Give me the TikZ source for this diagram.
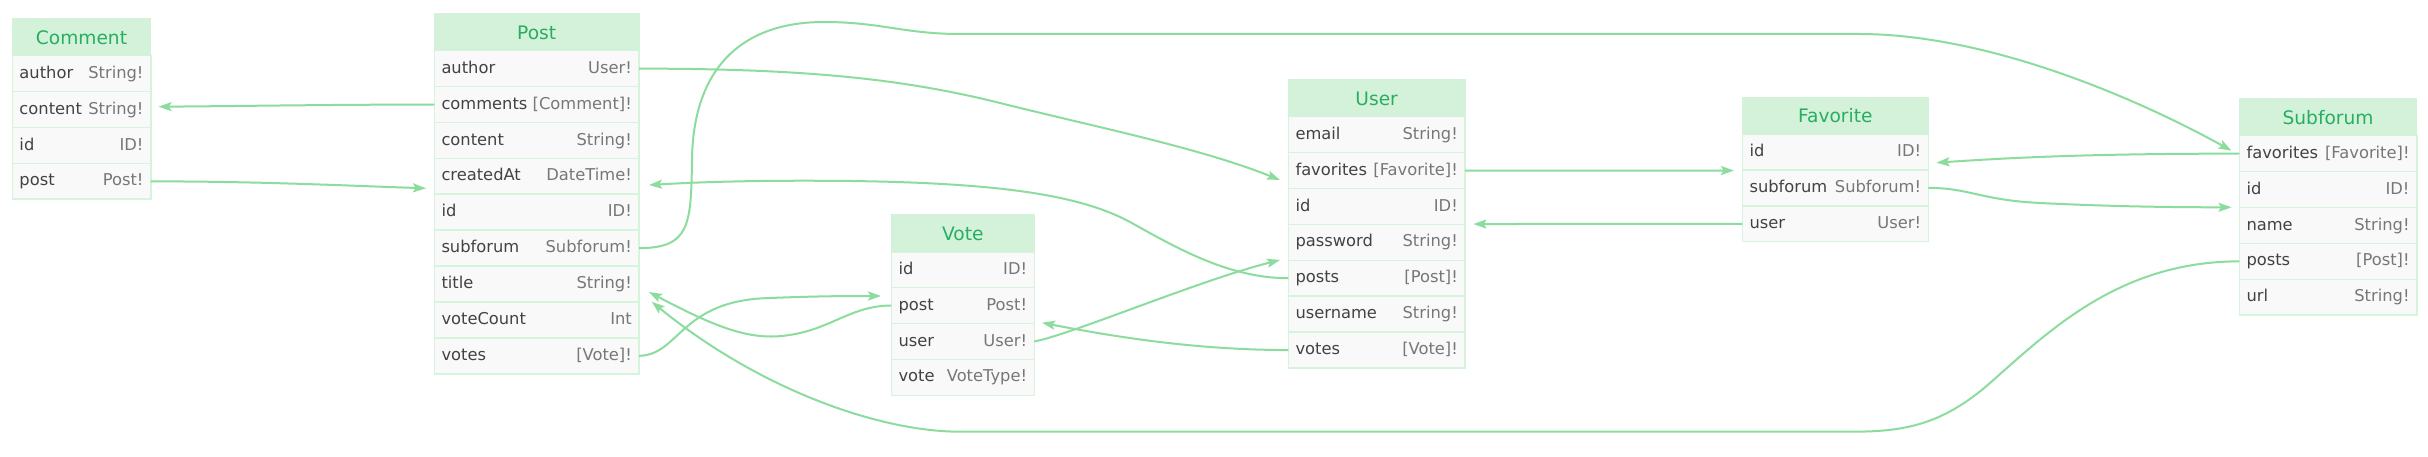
\documentclass[tikz,border=0pt]{standalone}
\usepackage{fontspec}
\setmainfont{DejaVu Sans}
\usetikzlibrary{arrows.meta,calc}
\definecolor{edgecol}{RGB}{140,220,158}
\definecolor{hdrfill}{RGB}{212,242,218}
\definecolor{hdrtext}{RGB}{39,174,96}
\definecolor{rowfill}{RGB}{249,249,249}
\definecolor{bordercol}{RGB}{214,243,220}
\definecolor{namecol}{RGB}{66,66,66}
\definecolor{typecol}{RGB}{119,119,119}
\tikzset{
  rowbox/.style={draw=bordercol, fill=rowfill, line width=1.6pt, inner sep=0pt, outer sep=0pt, minimum height=35.9pt},
  hdrbox/.style={draw=hdrfill, fill=hdrfill, line width=1.2pt, inner sep=0pt, outer sep=0pt, minimum height=36.7pt},
  htext/.style={inner sep=0pt, text=hdrtext, font=\fontsize{18.6pt}{22pt}\selectfont},
  fname/.style={inner sep=0pt, text=namecol, font=\fontsize{16.3pt}{19pt}\selectfont},
  ftype/.style={inner sep=0pt, text=typecol, font=\fontsize{16.3pt}{19pt}\selectfont},
  conn/.style={draw=edgecol, line width=2pt, -{Stealth[length=13pt,width=9pt,inset=2.5pt]}},
}
% #1 name, #2 left, #3 top, #4 width, #5 title, #6 rows
\newcommand{\gqltype}[6]{%
  \foreach \f/\t [count=\i] in {#6}{%
    \node[rowbox, minimum width=#4pt, anchor=north west] (#1-\f) at (#2, {#3+36.7+(\i-1)*35.9}) {};
    \node[fname, anchor=base west] (#1-\f-n) at ($(#1-\f.west)+(7,4.6)$) {\f};
    \node[ftype, anchor=base east] (#1-\f-t) at ($(#1-\f.east)+(-7,4.6)$) {\t};
  }
  \node[hdrbox, minimum width=#4pt, anchor=north west] (#1) at (#2,#3) {};
  \node[htext, anchor=base] (#1-title) at ($(#1.north)+(0,25.2)$) {#5};
}
\begin{document}
\begin{tikzpicture}[x=1pt,y=-1pt]
\fill[white] (0,0) rectangle (2428,457);
\useasboundingbox (0,0) rectangle (2428,457);

\gqltype{Comment}{12.3}{19}{138.4}{Comment}{author/String!, content/String!, id/ID!, post/Post!}
\gqltype{Post}{434.3}{14}{204.7}{Post}{author/User!, comments/{[Comment]!}, content/String!, createdAt/DateTime!, id/ID!, subforum/Subforum!, title/String!, voteCount/Int, votes/{[Vote]!}}
\gqltype{Vote}{891.3}{215}{143}{Vote}{id/ID!, post/Post!, user/User!, vote/VoteType!}
\gqltype{User}{1288.3}{80}{176.7}{User}{email/String!, favorites/{[Favorite]!}, id/ID!, password/String!, posts/{[Post]!}, username/String!, votes/{[Vote]!}}
\gqltype{Favorite}{1742.3}{97.3}{186}{Favorite}{id/ID!, subforum/Subforum!, user/User!}
\gqltype{Subforum}{2239.3}{99}{177.4}{Subforum}{favorites/{[Favorite]!}, id/ID!, name/String!, posts/{[Post]!}, url/String!}

% arrow tip points
\coordinate (tComment) at (158.5,106.7);
\coordinate (tPostA) at (426,188.3);
\coordinate (tUserA) at (1280,180);
\coordinate (tSubA) at (2231.5,150.7);
\coordinate (tVoteA) at (881,296);
\coordinate (tPostB) at (649,292);
\coordinate (tPostC) at (651.7,301.7);
\coordinate (tPostD) at (649,185);
\coordinate (tUserB) at (1280,260);
\coordinate (tVoteB) at (1042,322.7);
\coordinate (tFav) at (1734,170.55);
\coordinate (tUserC) at (1473.4,224.05);
\coordinate (tSubB) at (2231.5,207.3);
\coordinate (tFavB) at (1936.4,162.7);

% connectors
\draw[conn] (Post-comments.west) .. controls (330,104.6) and (250,106) .. (tComment);
\draw[conn] (Comment-post.east) .. controls (260,181.5) and (330,185) .. (tPostA);
\draw[conn] (Post-author.east) .. controls (800,68.6) and (900,78) .. (1000,103)
  .. controls (1100,128) and (1200,148) .. (tUserA);
\draw[conn] (Post-subforum.east) .. controls (690,248) and (691,225) .. (692,160)
  .. controls (693,70) and (740,22) .. (824,22)
  .. controls (880,22) and (905,34) .. (960,34) -- (1859,34)
  .. controls (1990,34) and (2140,100) .. (tSubA);
\draw[conn] (Post-votes.east) .. controls (680,355) and (680,300) .. (770,298)
  .. controls (820,296) and (850,296) .. (tVoteA);
\draw[conn] (Vote-post.west) .. controls (855,305.5) and (835,325) .. (800,333)
  .. controls (760,342) and (730,335) .. (tPostB);
\draw[conn] (Subforum-posts.west) .. controls (2120,261.45) and (2050,330) .. (1990,383)
  .. controls (1940,427) and (1900,431.7) .. (1850,431.7) -- (960,431.7)
  .. controls (880,431.7) and (760,390) .. (tPostC);
\draw[conn] (User-posts.west) .. controls (1230,278) and (1180,250) .. (1130,222)
  .. controls (1080,195) and (1000,183) .. (850,181)
  .. controls (760,180) and (700,182) .. (tPostD);
\draw[conn] (Vote-user.east) .. controls (1070,335) and (1200,280) .. (tUserB);
\draw[conn] (User-votes.west) .. controls (1200,350) and (1120,338) .. (tVoteB);
\draw[conn] (User-favorites.east) -- (tFav);
\draw[conn] (Favorite-user.west) -- (tUserC);
\draw[conn] (Favorite-subforum.east) .. controls (1970,188) and (1980,200) .. (2040,203)
  .. controls (2100,206) and (2160,207.3) .. (tSubB);
\draw[conn] (Subforum-favorites.west) .. controls (2100,153.65) and (2020,157) .. (tFavB);
\end{tikzpicture}
\end{document}
